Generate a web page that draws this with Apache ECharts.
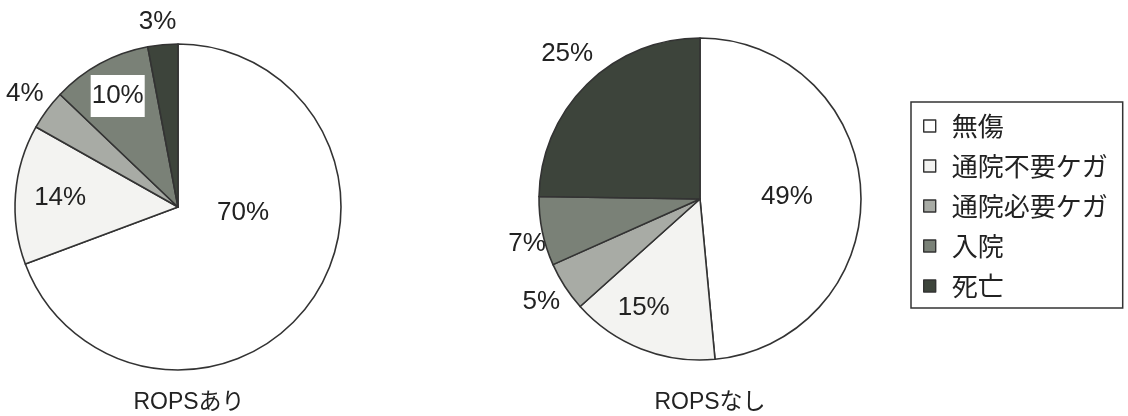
<!DOCTYPE html>
<html>
<head>
<meta charset="utf-8">
<script src="https://cdn.jsdelivr.net/npm/echarts@6/dist/echarts.min.js"></script>
<style>
  html, body { margin: 0; padding: 0; background: #ffffff; }
  #chart { width: 1128px; height: 416px; }
</style>
</head>
<body>
<div id="chart"></div>
<script>
// Outcome categories (legend order = slice order, clockwise from 12 o'clock)
const categories = ['無傷', '通院不要ケガ', '通院必要ケガ', '入院', '死亡'];
// Share of outcomes (%) with and without a roll-over protective structure
const withRops = [70, 14, 4, 10, 3];
const withoutRops = [49, 15, 5, 7, 25];
const pieTitles = ['ROPSあり', 'ROPSなし'];

// ---- styling ----
const sliceColors = ['#ffffff', '#f3f3f1', '#a8aba5', '#7a8177', '#3d443b'];
const numFont = "'Liberation Sans Narrow', 'Liberation Sans', 'Noto Sans CJK JP', sans-serif";
const jpFont = "'Noto Sans CJK JP', 'Noto Sans CJK SC', sans-serif";

// Per-pie geometry and label placement (radius factor and small angular nudge per slice)
const pies = [
  { values: withRops, center: [178, 207], radius: 163,
    labelDist: [0.40, 0.725, 1.17, 0.775, 1.14],
    labelTurn: [-30, 0, 0, 0, -1],
    boxed: [false, false, false, true, false],
    titleX: 189 },
  { values: withoutRops, center: [700, 199], radius: 161,
    labelDist: [0.54, 0.76, 1.175, 1.11, 1.22],
    labelTurn: [1, 6, 0, -3, 2],
    boxed: [false, false, false, false, false],
    titleX: 710 }
];

// Mid-angle of each slice, degrees clockwise from 12 o'clock
function midAngles(values) {
  const total = values.reduce((a, b) => a + b, 0);
  let acc = 0;
  return values.map(v => {
    const m = (acc + v / 2) / total * 360;
    acc += v;
    return m;
  });
}

const series = pies.map((p, si) => ({
  type: 'pie',
  center: p.center,
  radius: p.radius,
  startAngle: 90,
  clockwise: true,
  silent: true,
  itemStyle: { borderColor: '#333333', borderWidth: 1.6 },
  label: {
    show: true,
    position: 'inside',
    formatter: '{c}%',
    color: '#222222',
    fontFamily: numFont,
    fontSize: 26,
    textBorderWidth: 0
  },
  labelLine: { show: false },
  emphasis: { disabled: true },
  data: categories.map((name, i) => {
    const item = {
      name: name,
      value: p.values[i],
      itemStyle: { color: sliceColors[i] }
    };
    if (p.boxed[i]) {
      item.label = { backgroundColor: '#ffffff', padding: [9, 1, 7, 1] };
    }
    return item;
  }),
  labelLayout: function (params) {
    const mids = midAngles(p.values);
    const i = params.dataIndex;
    const theta = (mids[i] + p.labelTurn[i]) * Math.PI / 180;
    const d = p.labelDist[i] * p.radius;
    return {
      x: p.center[0] + d * Math.sin(theta),
      y: p.center[1] - d * Math.cos(theta),
      align: 'center',
      verticalAlign: 'middle'
    };
  }
}));

const chart = echarts.init(document.getElementById('chart'), null, { renderer: 'canvas' });
chart.setOption({
  backgroundColor: '#ffffff',
  animation: false,
  title: pies.map((p, i) => ({
    text: pieTitles[i],
    left: p.titleX,
    top: 391,
    textAlign: 'center',
    padding: 0,
    textStyle: { fontFamily: numFont, fontSize: 23, fontWeight: 'normal', color: '#222222' }
  })),
  legend: {
    data: categories,
    orient: 'vertical',
    left: 911,
    top: 102,
    padding: [11, 15, 9, 12],
    itemWidth: 12,
    itemHeight: 12,
    itemGap: 14,
    icon: 'rect',
    borderColor: '#333333',
    borderWidth: 1.5,
    selectedMode: false,
    itemStyle: { borderColor: '#333333', borderWidth: 1.4 },
    textStyle: {
      fontFamily: jpFont,
      fontSize: 26,
      lineHeight: 26,
      color: '#222222',
      padding: [0, 0, 0, 11]
    }
  },
  series: series
});
</script>
</body>
</html>
